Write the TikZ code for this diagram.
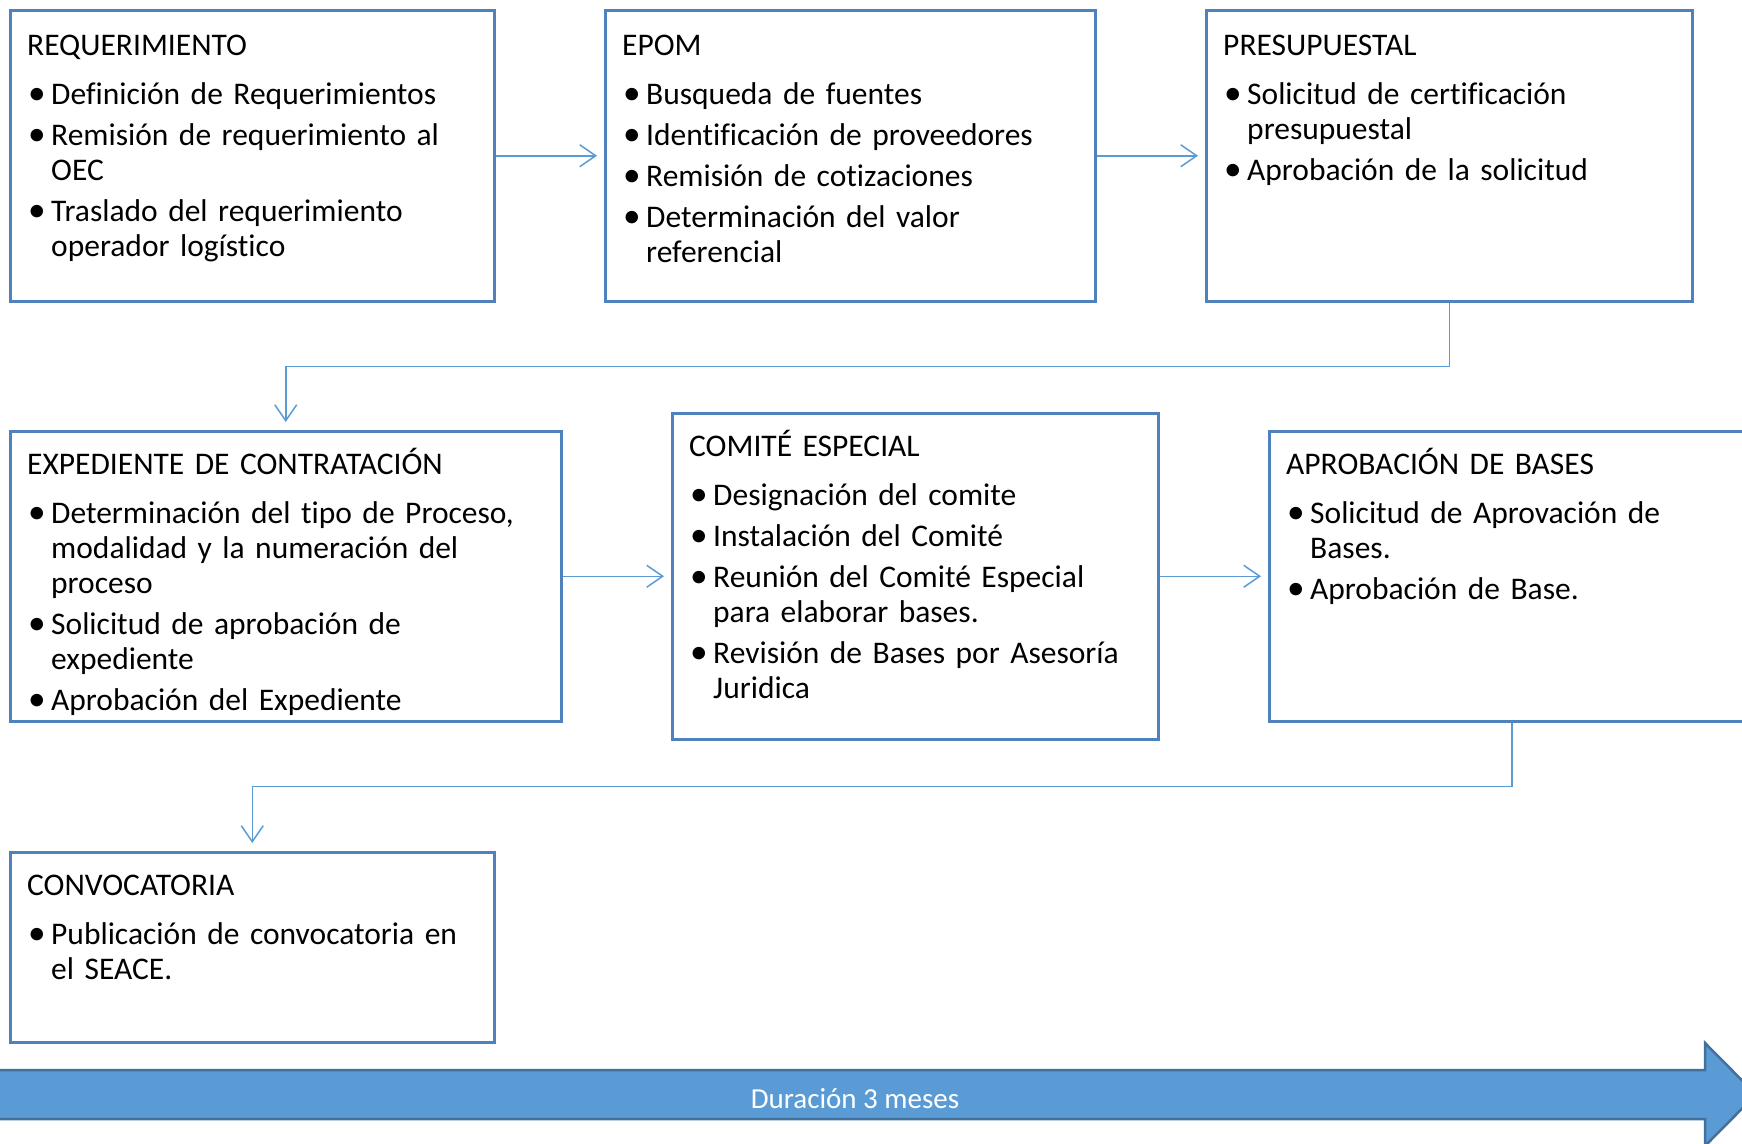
\documentclass[tikz,border=0pt]{standalone}
\usepackage{fontspec}
\setmainfont{Carlito}[Ligatures=CommonOff]
\usetikzlibrary{arrows.meta}
\definecolor{boxblue}{HTML}{4F81BD}
\definecolor{connblue}{HTML}{5B9BD5}
\definecolor{arrowfill}{HTML}{5B9BD5}
\definecolor{arrowline}{HTML}{41719C}
\newcommand\stagefont{\fontsize{31.5}{35}\selectfont\fontdimen2\font=6pt\relax}
\newcommand\bitem[1]{\par\vspace{6pt}\hangindent=24pt\hangafter=1\noindent\makebox[24pt][l]{\hspace{1pt}\scalebox{1.12}{\textbullet}}#1\par}
\newcommand\btitle[1]{\noindent\rule{0pt}{30pt}#1\par\vspace{8pt}}
\tikzset{
  stagebox/.style={draw=boxblue, line width=2.5pt, fill=white, inner sep=0pt, anchor=north west},
  stagetext/.style={anchor=north west, inner sep=0pt, text width=600pt, align=left,
    font=\stagefont, text=black},
  conn/.style={draw=connblue, line width=1.5pt, -{Straight Barb[length=16pt,width=22pt]}, shorten >=7pt},
}
\begin{document}
\begin{tikzpicture}[x=1pt,y=-1pt]
\useasboundingbox (0,0) rectangle (1742,1143);
\clip (0,0) rectangle (1742,1143);
% boxes
\node[stagebox, minimum width=484pt, minimum height=291pt] (req) at (9,9) {};
\node[stagebox, minimum width=490pt, minimum height=291pt] (epom) at (604,9) {};
\node[stagebox, minimum width=486pt, minimum height=291pt] (pres) at (1205,9) {};
\node[stagebox, minimum width=551pt, minimum height=290pt] (exp) at (9,430) {};
\node[stagebox, minimum width=486pt, minimum height=326pt] (com) at (671,412) {};
\node[stagebox, minimum width=485pt, minimum height=290pt] (apr) at (1268,430) {};
\node[stagebox, minimum width=484pt, minimum height=190pt] (conv) at (9,851) {};
% texts
\node[stagetext] (reqt) at ([xshift=18pt,yshift=-16pt]req.north west) {%
  \btitle{REQUERIMIENTO}%
  \bitem{Definición de Requerimientos}%
  \bitem{Remisión de requerimiento al\newline OEC}%
  \bitem{Traslado del requerimiento\newline operador logístico}};
\node[stagetext] (epomt) at ([xshift=18pt,yshift=-16pt]epom.north west) {%
  \btitle{EPOM}%
  \bitem{Busqueda de fuentes}%
  \bitem{Identificación de proveedores}%
  \bitem{Remisión de cotizaciones}%
  \bitem{Determinación del valor\newline referencial}};
\node[stagetext] (prest) at ([xshift=18pt,yshift=-16pt]pres.north west) {%
  \btitle{PRESUPUESTAL}%
  \bitem{Solicitud de certificación\newline presupuestal}%
  \bitem{Aprobación de la solicitud}};
\node[stagetext] (expt) at ([xshift=18pt,yshift=-14pt]exp.north west) {%
  \btitle{EXPEDIENTE DE CONTRATACIÓN}%
  \bitem{Determinación del tipo de Proceso,\newline modalidad y la numeración del\newline proceso}%
  \bitem{Solicitud de aprobación de\newline expediente}%
  \bitem{Aprobación del Expediente}};
\node[stagetext] (comt) at ([xshift=18pt,yshift=-14pt]com.north west) {%
  \btitle{COMITÉ ESPECIAL}%
  \bitem{Designación del comite}%
  \bitem{Instalación del Comité}%
  \bitem{Reunión del Comité Especial\newline para elaborar bases.}%
  \bitem{Revisión de Bases por Asesoría\newline Juridica}};
\node[stagetext] (aprt) at ([xshift=18pt,yshift=-14pt]apr.north west) {%
  \btitle{APROBACIÓN DE BASES}%
  \bitem{Solicitud de Aprovación de\newline Bases.}%
  \bitem{Aprobación de Base.}};
\node[stagetext] (convt) at ([xshift=18pt,yshift=-14pt]conv.north west) {%
  \btitle{CONVOCATORIA}%
  \bitem{Publicación de convocatoria en\newline el SEACE.}};
% connectors
\draw[conn] (req.east) -- (epom.west);
\draw[conn] (epom.east) -- (pres.west);
\draw[conn, shorten >=8pt] (pres.south) -- ++(0,64) -| (exp.north);
\draw[conn] (exp.east) -- (com.west);
\draw[conn] (com.east) -- (apr.west);
\draw[conn, shorten >=8pt] (apr.south) -- ++(0,64) -| (conv.north);
% duration arrow
\draw[fill=arrowfill, draw=arrowline, line width=2.5pt, line join=miter]
  (-10,1070) -- (1705,1070) -- (1705,1043) -- (1756,1094.5) -- (1705,1146) -- (1705,1119) -- (-10,1119) -- cycle;
\node[text=white, font=\fontsize{29}{34}\selectfont, inner sep=0pt] (dur) at (855,1099) {Duración 3 meses};
\end{tikzpicture}
\end{document}
